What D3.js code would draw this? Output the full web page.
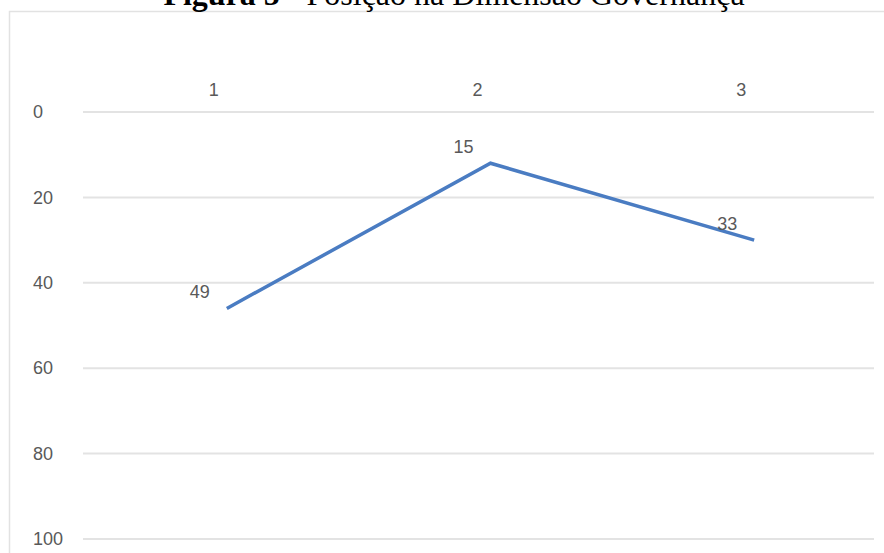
<!DOCTYPE html>
<html>
<head>
<meta charset="utf-8">
<script src="https://cdn.jsdelivr.net/npm/d3@7"></script>
<style>
  html, body { margin: 0; padding: 0; background: #fff; }
  svg { display: block; }
</style>
</head>
<body>
<svg id="chart" width="884" height="553"></svg>
<script>
const categories = ["1", "2", "3"];
const values = [46, 12, 30];          // plotted positions as drawn
const valueLabels = ["49", "15", "33"]; // data labels as printed
const yTicks = [0, 20, 40, 60, 80, 100];
const titleBold = "Figura 5";
const titleRest = " - Posição na Dimensão Governança";

const svg = d3.select("#chart");
const W = 884, H = 553;
const plot = { left: 83, right: 874, top: 112, bottom: 539 };

// chart frame
svg.append("rect")
  .attr("x", 9.5).attr("y", 11.5)
  .attr("width", W + 20).attr("height", H + 20)
  .attr("fill", "#fff").attr("stroke", "#e2e2e2").attr("stroke-width", 1.5);

// title
svg.append("text")
  .attr("x", 454).attr("y", 5)
  .attr("text-anchor", "middle")
  .attr("font-family", "'Liberation Serif', 'Times New Roman', serif")
  .attr("font-size", 32)
  .attr("fill", "#000")
  .call(t => {
    t.append("tspan").attr("font-weight", "bold").text(titleBold);
    t.append("tspan").text(titleRest);
  });

const x = d3.scaleBand().domain(categories).range([plot.left, plot.right]);
const y = d3.scaleLinear().domain([0, 100]).range([plot.top, plot.bottom]);

const fontFam = "'Liberation Sans Narrow', 'Arial Narrow', 'Liberation Sans', Arial, sans-serif";
const fontSize = 18;
const textCol = "#595959";

// gridlines
svg.append("g").selectAll("line").data(yTicks).join("line")
  .attr("x1", plot.left).attr("x2", plot.right)
  .attr("y1", d => y(d)).attr("y2", d => y(d))
  .attr("stroke", "#e3e3e3").attr("stroke-width", 2);

// y axis labels
const yAxis = d3.axisLeft(y).tickValues(yTicks).tickSize(0).tickPadding(0);
const gy = svg.append("g").attr("transform", "translate(33,0)").call(yAxis);
gy.select(".domain").remove();
gy.selectAll("text")
  .attr("text-anchor", "start")
  .attr("font-family", fontFam).attr("font-size", fontSize)
  .attr("fill", textCol);

// x axis labels (on top)
const xAxis = d3.axisTop(x).tickSize(0).tickPadding(0);
const gx = svg.append("g").attr("transform", "translate(-1,96)").call(xAxis);
gx.select(".domain").remove();
gx.selectAll("text")
  .attr("font-family", fontFam).attr("font-size", fontSize)
  .attr("fill", textCol);

// line
const pts = categories.map((c, i) => ({ c, v: values[i], lab: valueLabels[i] }));
const lineOffset = 12;
const line = d3.line()
  .x(d => x(d.c) + x.bandwidth() / 2 + lineOffset)
  .y(d => y(d.v));
svg.append("path").datum(pts)
  .attr("d", line)
  .attr("fill", "none")
  .attr("stroke", "#4a7cc2")
  .attr("stroke-width", 3.5)
  .attr("stroke-linejoin", "miter");

// data labels
svg.append("g").selectAll("text").data(pts).join("text")
  .attr("x", d => x(d.c) + x.bandwidth() / 2 + lineOffset - 17)
  .attr("y", d => y(d.v) - 10)
  .attr("text-anchor", "end")
  .attr("font-family", fontFam).attr("font-size", fontSize)
  .attr("fill", textCol)
  .text(d => d.lab);
</script>
</body>
</html>
